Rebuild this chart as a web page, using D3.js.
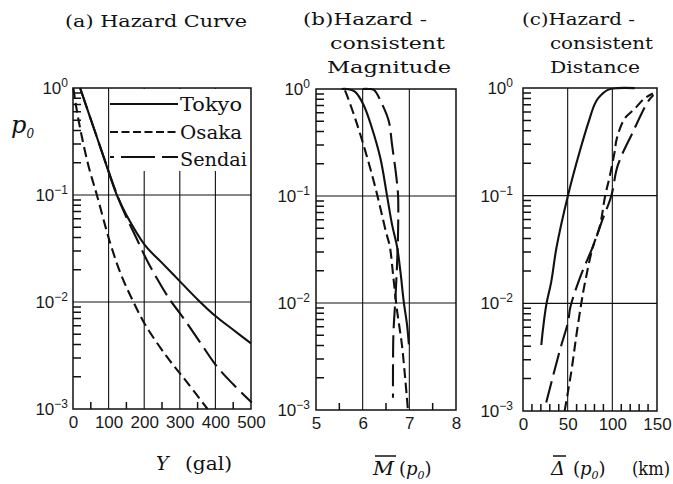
<!DOCTYPE html>
<html><head><meta charset="utf-8">
<script src="https://cdn.jsdelivr.net/npm/d3@7/dist/d3.min.js"></script>
<style>body{margin:0;background:#fff}</style>
</head><body>
<svg id="chart" width="673" height="484"></svg>
<script>
// ---- data ----
const cities = ["Tokyo", "Osaka", "Sendai"];
const decadeValues = [1, 0.1, 0.01, 0.001];
const decadeExponents = ["0", "-1", "-2", "-3"];

const aTicks = [0, 100, 200, 300, 400, 500];
const aMinor = [50, 150, 250, 350, 450];
const bTicks = [5, 6, 7, 8];
const bMinor = [5.5, 6.5, 7.5];
const cTicks = [0, 50, 100, 150];
const cMinor = [10, 20, 30, 40, 60, 70, 80, 90, 110, 120, 130, 140];

// (a) hazard curve: [Y (gal), p0]
const aTokyo  = [[20,1.0],[50,0.51],[80,0.26],[123,0.1],[150,0.065],[202,0.034],[250,0.0232],[301,0.0155],[352,0.0104],[400,0.0074],[450,0.0055],[500,0.0041]];
const aOsaka  = [[1,1.0],[8,0.7],[20,0.42],[43,0.19],[67,0.1],[104,0.036],[135,0.018],[165,0.0108],[202,0.0062],[263,0.0031],[319,0.0018],[378,0.001]];
const aSendai = [[20,1.0],[50,0.51],[80,0.26],[124,0.1],[150,0.062],[179,0.039],[212,0.023],[272,0.0105],[301,0.0078],[357,0.0042],[404,0.0025],[450,0.0017],[502,0.00115]];

// (b) hazard-consistent magnitude: [M, p0]
const bTokyo  = [[5.55,1.0],[5.7,0.995],[5.84,0.94],[6.02,0.71],[6.2,0.43],[6.38,0.225],[6.52,0.102],[6.63,0.054],[6.74,0.033],[6.81,0.0195],[6.88,0.0103],[6.95,0.0063],[6.99,0.0041]];
const bOsaka  = [[5.62,0.97],[5.66,0.88],[5.84,0.53],[6.06,0.26],[6.24,0.136],[6.38,0.077],[6.5,0.046],[6.58,0.034],[6.66,0.017],[6.74,0.0083],[6.84,0.0041],[6.91,0.002],[6.97,0.001]];
const bSendai = [[6.0,1.0],[6.12,1.0],[6.24,0.98],[6.41,0.73],[6.56,0.5],[6.63,0.3],[6.7,0.18],[6.74,0.127],[6.76,0.099],[6.76,0.05],[6.74,0.025],[6.7,0.0107],[6.66,0.0053],[6.65,0.0025],[6.65,0.0013]];

// (c) hazard-consistent distance: [Delta (km), p0]
const cTokyo  = [[20.5,0.0041],[22.4,0.0058],[26.1,0.0097],[31.7,0.016],[37.5,0.033],[50.4,0.101],[63.4,0.256],[74.6,0.52],[80,0.7],[84,0.8],[95,0.96],[106,0.998],[125,0.998]];
const cOsaka  = [[46.6,0.001],[54,0.0023],[59.7,0.005],[65,0.0097],[69,0.015],[78,0.033],[86,0.052],[92,0.1],[97,0.15],[102.6,0.256],[105,0.34],[113.8,0.52],[125,0.64],[136,0.8],[145.5,0.89]];
const cSendai = [[26,0.0012],[41,0.0036],[50.4,0.0067],[53,0.0092],[63.4,0.017],[79,0.035],[89,0.06],[98.9,0.1],[106,0.19],[123,0.39],[140,0.75],[146,0.86]];

// ---- drawing ----
const svg = d3.select("#chart");
const serif = "'DejaVu Serif', serif";
const sans = "'Liberation Sans', Arial, sans-serif";
const dashes = {Tokyo: null, Osaka: "10,5", Sendai: "22,7"};

const minorP = [];
[0.001, 0.01, 0.1].forEach(d => { for (let k = 2; k <= 9; k++) minorP.push(k * d); });

const panels = [
  {id: "a", x: d3.scaleLinear([0, 500], [73, 251]), y: d3.scaleLog([1e-3, 1], [409, 88]),
   ticks: aTicks, minor: aMinor, labRight: 68, data: [aTokyo, aOsaka, aSendai]},
  {id: "b", x: d3.scaleLinear([5, 8], [316, 456]), y: d3.scaleLog([1e-3, 1], [410, 89]),
   ticks: bTicks, minor: bMinor, labRight: 310, data: [bTokyo, bOsaka, bSendai]},
  {id: "c", x: d3.scaleLinear([0, 150], [523, 657]), y: d3.scaleLog([1e-3, 1], [411, 88]),
   ticks: cTicks, minor: cMinor, labRight: 513, data: [cTokyo, cOsaka, cSendai]}
];

panels.forEach(p => {
  const [x0, x1] = p.x.range();
  const [yb, yt] = p.y.range();
  const g = svg.append("g");

  // grid: vertical lines at major x ticks, horizontal at 0.1 and 0.01 (one path)
  const gp = d3.path();
  p.ticks.slice(1, -1).forEach(v => { gp.moveTo(p.x(v), yt); gp.lineTo(p.x(v), yb); });
  [0.1, 0.01].forEach(v => { gp.moveTo(x0, p.y(v)); gp.lineTo(x1, p.y(v)); });
  g.append("path").attr("d", gp.toString()).attr("fill", "none").attr("stroke", "#111").attr("stroke-width", 1.1);

  // x tick labels
  g.append("g").attr("transform", `translate(0,${yb})`)
    .call(d3.axisBottom(p.x).tickValues(p.ticks).tickSize(0).tickPadding(7).tickFormat(d3.format("d")))
    .call(s => s.select(".domain").remove())
    .selectAll("text").attr("font-family", sans).attr("font-size", 17).attr("fill", "#1a1a1a");

  // y tick labels 10^n
  decadeValues.forEach((v, i) => {
    const t = g.append("text").attr("x", p.labRight).attr("y", p.y(v) + 6)
      .attr("text-anchor", "end").attr("font-family", sans).attr("font-size", 17).attr("fill", "#1a1a1a");
    t.append("tspan").text("10");
    t.append("tspan").attr("font-size", 12).attr("dy", -7).text(decadeExponents[i].replace("-", "\u2212"));
  });

  // legend background (panel a only)
  if (p.id === "a") {
    g.append("rect").attr("x", 110).attr("y", yt + 1).attr("width", x1 - 110 - 1).attr("height", 170 - yt).attr("fill", "#fff");
  }

  // curves
  const line = d3.line().x(d => p.x(d[0])).y(d => p.y(d[1])).curve(d3.curveCatmullRom.alpha(0.5));
  p.data.forEach((s, i) => {
    g.append("path").attr("d", line(s)).attr("fill", "none").attr("stroke", "#111")
      .attr("stroke-width", 2.1).attr("stroke-dasharray", dashes[cities[i]]);
  });

  // frame + inward minor ticks (left axis and bottom axis) as a single path
  const fp = d3.path();
  fp.rect(x0, yt, x1 - x0, yb - yt);
  minorP.forEach(v => { fp.moveTo(x0, p.y(v)); fp.lineTo(x0 + 8, p.y(v)); });
  p.minor.forEach(v => { fp.moveTo(p.x(v), yb); fp.lineTo(p.x(v), yb - 7); });
  g.append("path").attr("d", fp.toString()).attr("fill", "none").attr("stroke", "#111").attr("stroke-width", 1.5);
});

// legend
const legY = [104, 132, 157];
const legTextY = [111, 138.5, 166];
const legDash = [null, "8,3.5", "34,7"];
const legLen = [62, 62, 67];
cities.forEach((c, i) => {
  svg.append("line").attr("x1", 110).attr("x2", 178).attr("y1", legY[i]).attr("y2", legY[i])
    .attr("stroke", "#111").attr("stroke-width", 2).attr("stroke-dasharray", legDash[i])
    .attr("stroke-dashoffset", i === 2 ? 30 : 0);
  svg.append("text").attr("x", 180).attr("y", legTextY[i]).attr("font-family", serif).attr("font-size", 18)
    .attr("textLength", legLen[i]).attr("lengthAdjust", "spacingAndGlyphs").attr("fill", "#111").text(c);
});

// titles
const titles = [
  {t: "(a)  Hazard Curve", x: 65, y: 27, w: 182},
  {t: "(b)Hazard -", x: 303, y: 25, w: 124},
  {t: "consistent", x: 330, y: 49, w: 115},
  {t: "Magnitude", x: 327, y: 73, w: 124},
  {t: "(c)Hazard -", x: 522, y: 25, w: 113},
  {t: "consistent", x: 550, y: 49, w: 103},
  {t: "Distance", x: 550, y: 73, w: 90}
];
titles.forEach(d => {
  svg.append("text").attr("x", d.x).attr("y", d.y).attr("font-family", serif).attr("font-size", 17)
    .attr("textLength", d.w).attr("lengthAdjust", "spacingAndGlyphs").attr("fill", "#111").text(d.t);
});

// y-axis title p0
const py = svg.append("text").attr("x", 11).attr("y", 133).attr("font-family", serif).attr("fill", "#111");
py.append("tspan").attr("font-size", 24).attr("font-style", "italic").text("p");
py.append("tspan").attr("font-size", 12).attr("font-style", "italic").attr("dy", 5).text("0");

// x-axis titles
function addText(x, y, txt, size, italic, w) {
  const t = svg.append("text").attr("x", x).attr("y", y).attr("font-family", serif)
    .attr("font-size", size).attr("fill", "#111").text(txt);
  if (italic) t.attr("font-style", "italic");
  if (w) t.attr("textLength", w).attr("lengthAdjust", "spacingAndGlyphs");
  return t;
}
function addP0(x, y) {
  const t = svg.append("text").attr("x", x).attr("y", y).attr("font-family", serif).attr("font-size", 18).attr("fill", "#111");
  t.append("tspan").text("(");
  t.append("tspan").attr("font-style", "italic").text("p");
  t.append("tspan").attr("font-style", "italic").attr("font-size", 11).attr("dy", 4).text("0");
  t.append("tspan").attr("dy", -4).text(")");
  return t;
}
addText(156, 470, "Y", 19, true);
addText(185, 470, "(gal)", 18, false, 47);

addText(373, 475, "M", 19, true, 21);
svg.append("line").attr("x1", 375).attr("x2", 396).attr("y1", 456).attr("y2", 456).attr("stroke", "#111").attr("stroke-width", 1.5);
addP0(399, 475);

addText(551, 475, "\u0394", 19, true, 14);
svg.append("line").attr("x1", 553).attr("x2", 566).attr("y1", 456).attr("y2", 456).attr("stroke", "#111").attr("stroke-width", 1.5);
addP0(573, 475);
addText(632, 475, "(km)", 18, false, 38);
</script>
</body></html>
